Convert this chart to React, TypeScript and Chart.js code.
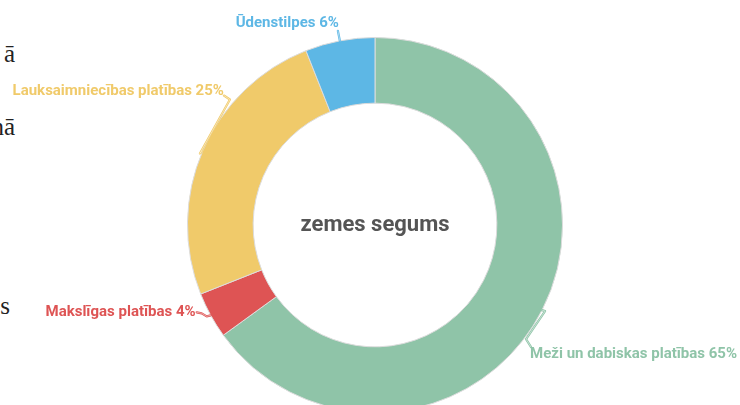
import React, { useEffect, useRef } from "react";
import { Chart, registerables } from "chart.js";

Chart.register(...registerables);

const categories = [
  "Meži un dabiskas platības",
  "Makslīgas platības",
  "Lauksaimniecības platības",
  "Ūdenstilpes",
];
const values = [65, 4, 25, 6];
const colors = ["#8fc4a8", "#de5454", "#f0ca6a", "#5db7e5"];
const centerTitle = "zemes segums";

// label placement relative to each slice's outer mid point
const labelRoutes = [
  { pts: [[0, 0], [3, 1], [-16, 29], [-11, 37]], text: [-12, 44], align: "left" },
  { pts: [[0, 0], [-4, 1], [-9, -2], [-14, -3]], text: [-15, -3], align: "right" },
  { pts: [[0, 0], [-3, 3], [27, -51], [21, -55]], text: [21, -59], align: "right" },
  { pts: [[0, 0], [-2, -10]], text: [-1, -18], align: "right" },
];

const labelPlugin = {
  id: "outerLabels",
  afterDatasetsDraw(chart: any) {
    const ctx = chart.ctx;
    const meta = chart.getDatasetMeta(0);
    meta.data.forEach((arc: any, i: number) => {
      const { x, y, startAngle, endAngle, outerRadius } = arc.getProps(
        ["x", "y", "startAngle", "endAngle", "outerRadius"],
        true
      );
      const mid = (startAngle + endAngle) / 2;
      const px = x + Math.cos(mid) * outerRadius;
      const py = y + Math.sin(mid) * outerRadius;
      const r = labelRoutes[i];
      const col = colors[i];
      ctx.save();
      ctx.lineJoin = "round";
      ctx.lineCap = "round";
      const path = () => {
        ctx.beginPath();
        r.pts.forEach((p: number[], k: number) => {
          if (k === 0) ctx.moveTo(px + p[0], py + p[1]);
          else ctx.lineTo(px + p[0], py + p[1]);
        });
      };
      path();
      ctx.strokeStyle = col;
      ctx.lineWidth = 2.2;
      ctx.stroke();
      path();
      ctx.strokeStyle = "rgba(255,255,255,0.8)";
      ctx.lineWidth = 0.6;
      ctx.stroke();
      ctx.font = "bold 15px Roboto";
      ctx.fillStyle = col;
      ctx.textAlign = r.align as CanvasTextAlign;
      ctx.textBaseline = "middle";
      ctx.fillText(categories[i] + " " + values[i] + "%", px + r.text[0], py + r.text[1]);
      ctx.restore();
    });
    const a0: any = meta.data[0];
    ctx.save();
    ctx.font = "bold 22px Roboto";
    ctx.fillStyle = "#555555";
    ctx.textAlign = "center";
    ctx.textBaseline = "middle";
    ctx.fillText(centerTitle, a0.x, a0.y);
    ctx.restore();
  },
};

export default function App() {
  const ref = useRef<HTMLCanvasElement>(null);
  useEffect(() => {
    const chart = new Chart(ref.current as HTMLCanvasElement, {
      type: "doughnut",
      data: {
        labels: categories,
        datasets: [
          {
            data: values,
            backgroundColor: colors,
            borderColor: "#dcdcdc",
            borderWidth: 1,
          },
        ],
      },
      options: {
        animation: false,
        responsive: false,
        cutout: "65%",
        layout: { padding: { left: 187, right: 177, top: 37, bottom: 7 } },
        plugins: { legend: { display: false }, tooltip: { enabled: false } },
      },
      plugins: [labelPlugin],
    });
    return () => chart.destroy();
  }, []);

  const serif: React.CSSProperties = {
    position: "absolute",
    fontFamily: "serif",
    fontSize: 25,
    color: "#222",
    textAlign: "right",
    width: 60,
    left: -45,
    whiteSpace: "nowrap",
  };

  return (
    <div
      style={{
        position: "fixed",
        left: 0,
        top: 0,
        width: 740,
        height: 405,
        overflow: "hidden",
        background: "#fff",
      }}
    >
      <div style={{ ...serif, top: 40 }}>ā</div>
      <div style={{ ...serif, top: 113 }}>nā</div>
      <div style={{ ...serif, top: 292, left: -50 }}>s</div>
      <canvas
        ref={ref}
        width={740}
        height={420}
        style={{ position: "absolute", left: 0, top: 0, width: 740, height: 420 }}
      />
    </div>
  );
}
